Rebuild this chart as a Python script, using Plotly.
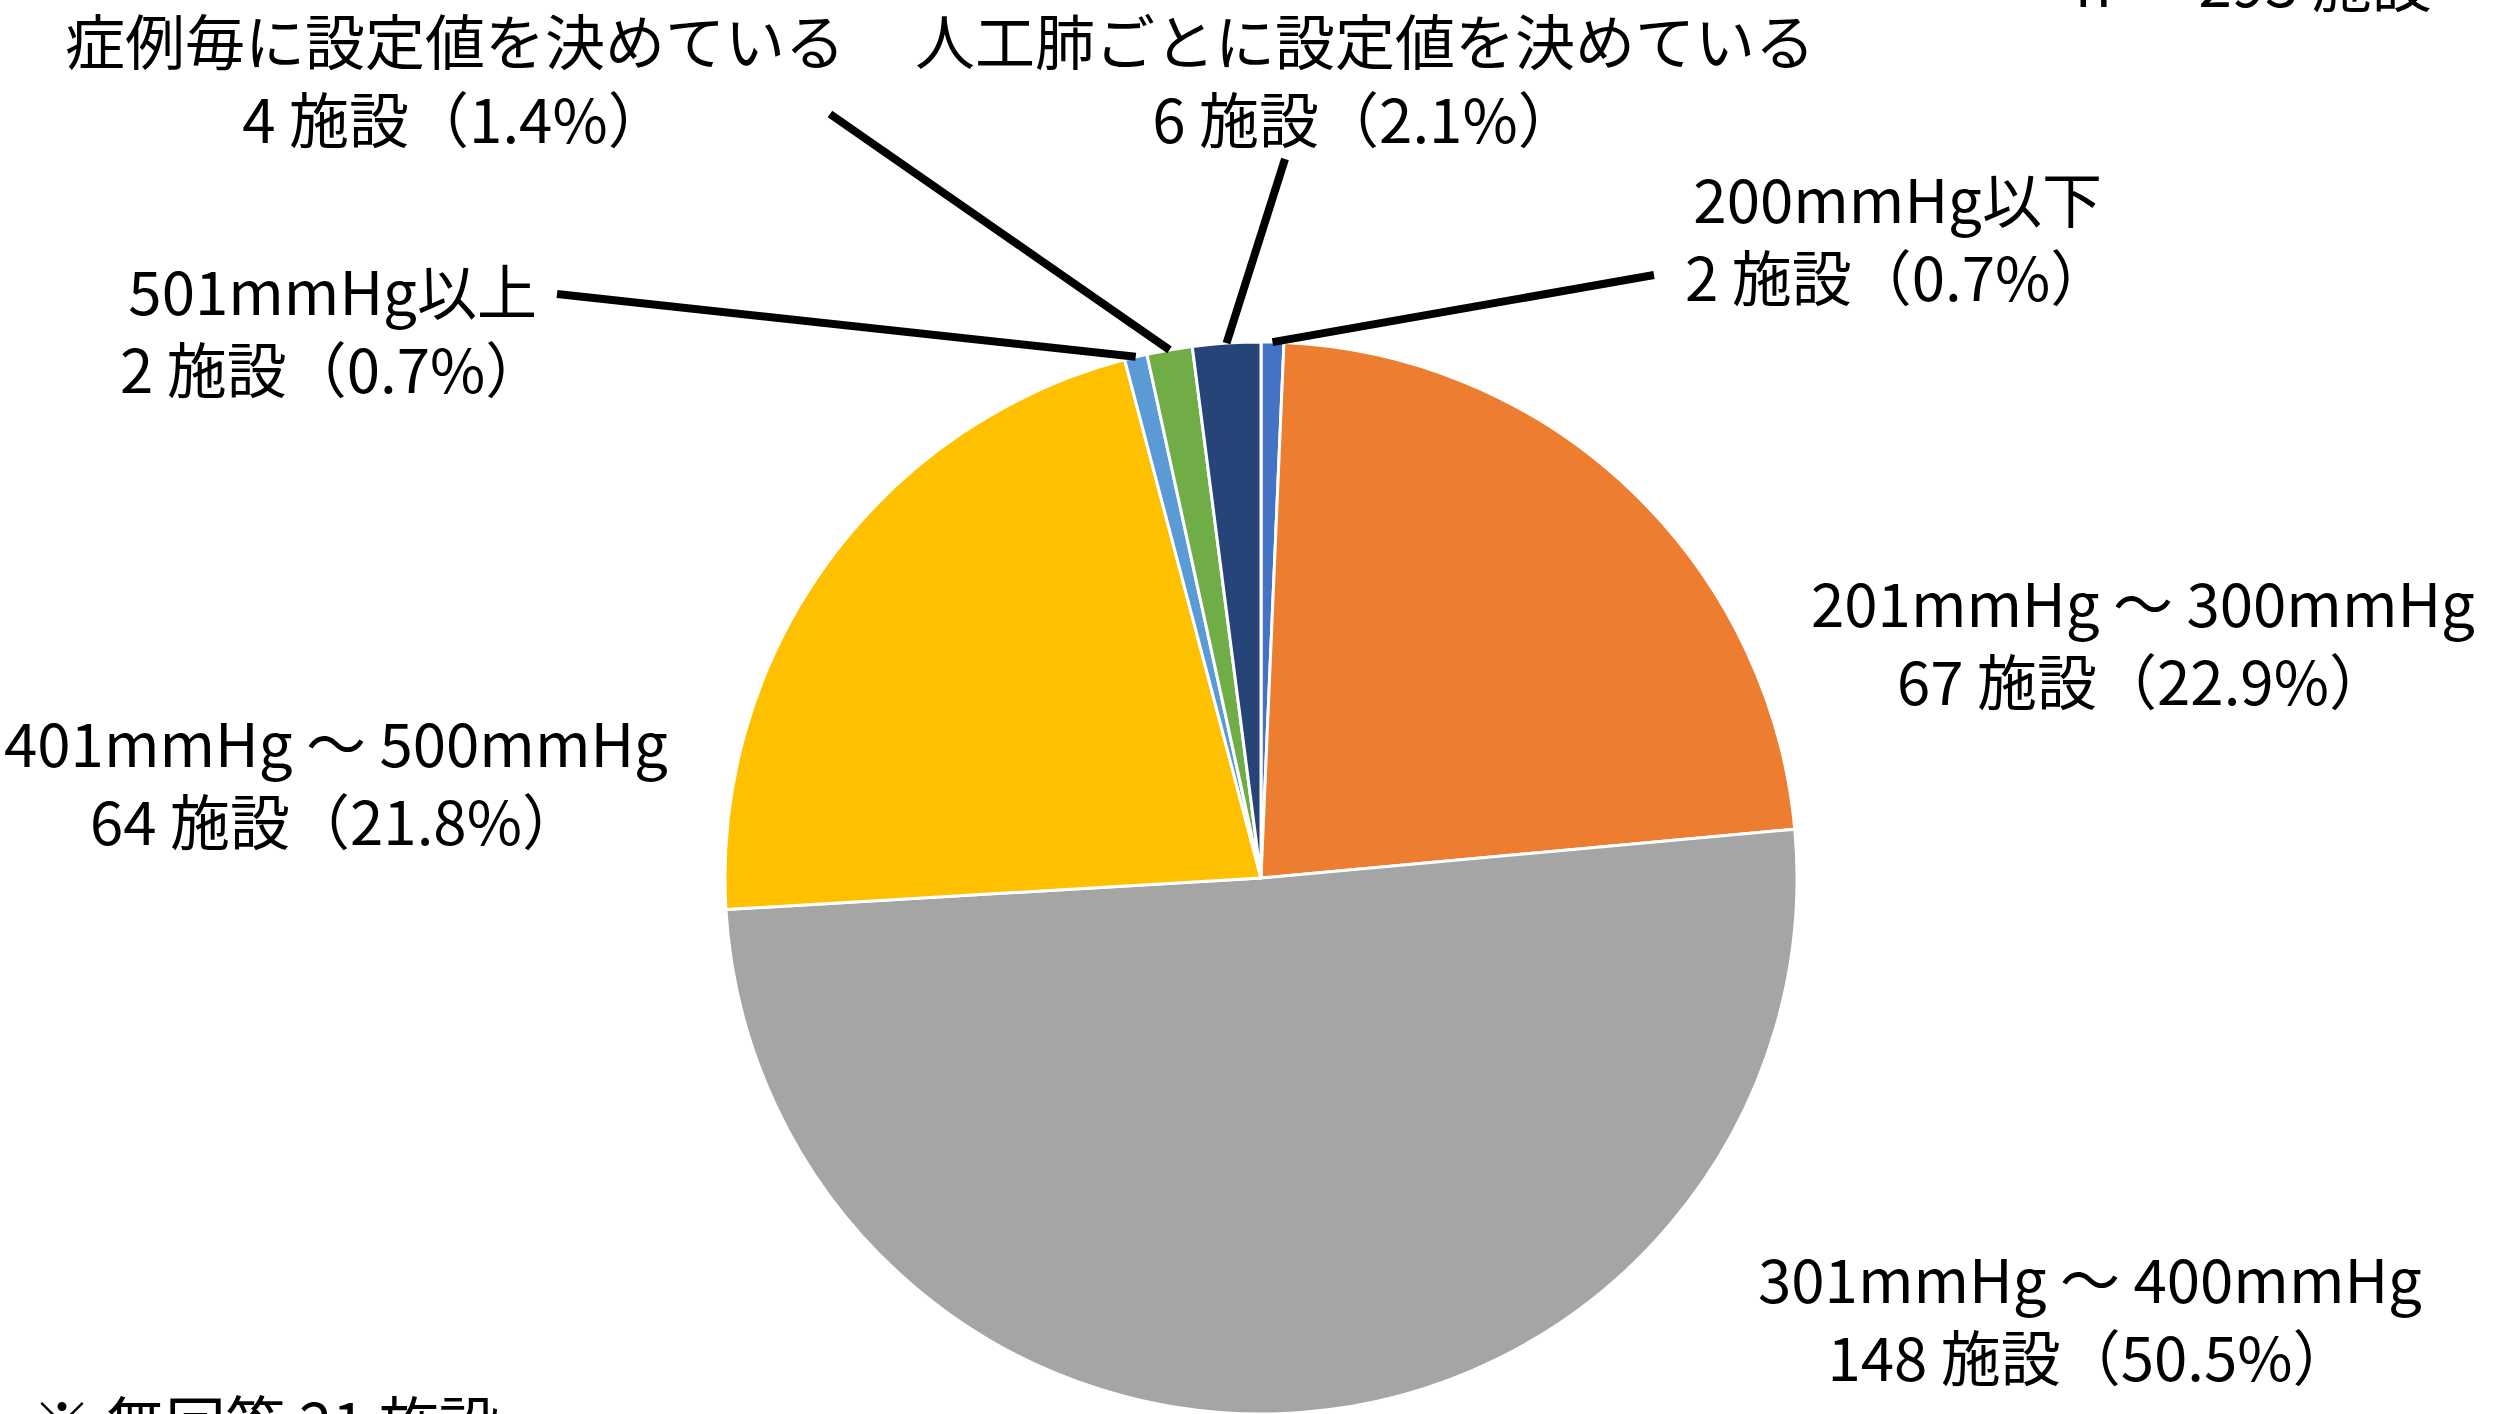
import math
import plotly.graph_objects as go

# ---- data ----
categories = [
    "200mmHg以下",
    "201mmHg ～ 300mmHg",
    "301mmHg ～ 400mmHg",
    "401mmHg ～ 500mmHg",
    "501mmHg以上",
    "症例毎に設定値を決めている",
    "人工肺ごとに設定値を決めている",
]
counts = [2, 67, 148, 64, 2, 4, 6]
percents = ["0.7", "22.9", "50.5", "21.8", "0.7", "1.4", "2.1"]
colors = ["#4472C4", "#ED7D31", "#A5A5A5", "#FFC000", "#5B9BD5", "#70AD47", "#264478"]
total_text = "n ＝ 293 施設"
no_answer_text = "※ 無回答 21 施設"

# ---- layout geometry (pixels) ----
W, H = 2493, 1414
CX, R = 1261, 536
CY = H - R  # pie sits on bottom of the domain
FONT = "Noto Sans CJK JP"
FS = 60

# label centres (px, from top-left)
label_pos = [
    (1898, 235),
    (2143, 639),
    (2090, 1315),
    (336, 780),
    (332, 327),
    (455, 77),
    (1365, 77),
]
# leader line outer ends (px) ; None = no leader line
leader_end = [
    (1654, 275),
    None,
    None,
    None,
    (557, 294),
    (830, 114),
    (1285, 159),
]

fig = go.Figure(
    go.Pie(
        labels=categories,
        values=counts,
        sort=False,
        direction="clockwise",
        rotation=0,
        marker=dict(colors=colors, line=dict(color="white", width=3)),
        textinfo="none",
        hoverinfo="skip",
        domain=dict(x=[(CX - R) / W, (CX + R) / W], y=[0, 2 * R / H]),
    )
)

def px2paper(x, y):
    return x / W, 1 - y / H

annotations = []
shapes = []
total = sum(counts)
cum = 0
for i, (cat, n, p) in enumerate(zip(categories, counts, percents)):
    mid = (cum + n / 2) / total * 2 * math.pi
    cum += n
    lx, ly = label_pos[i]
    ax, ay = px2paper(lx, ly)
    annotations.append(
        dict(
            x=ax, y=ay, xref="paper", yref="paper",
            text=f"{cat}<br>{n} 施設（{p}%）",
            showarrow=False, xanchor="center", yanchor="middle", align="center",
            font=dict(family=FONT, size=FS, color="black"),
        )
    )
    if leader_end[i] is not None:
        ex, ey = CX + R * math.sin(mid), CY - R * math.cos(mid)
        x0, y0 = px2paper(*leader_end[i])
        x1, y1 = px2paper(ex, ey)
        shapes.append(
            dict(type="line", xref="paper", yref="paper", x0=x0, y0=y0, x1=x1, y1=y1,
                 line=dict(color="black", width=8))
        )

tx, ty = px2paper(2434, -19)
annotations.append(
    dict(x=tx, y=ty, xref="paper", yref="paper", text=total_text, showarrow=False,
         xanchor="right", yanchor="middle", font=dict(family=FONT, size=FS, color="black"))
)
bx, by = px2paper(30, 1420)
annotations.append(
    dict(x=bx, y=by, xref="paper", yref="paper", text=no_answer_text, showarrow=False,
         xanchor="left", yanchor="middle", font=dict(family=FONT, size=FS, color="black"))
)

fig.update_layout(
    width=W, height=H,
    margin=dict(l=0, r=0, t=0, b=0),
    paper_bgcolor="white", plot_bgcolor="white",
    showlegend=False,
    annotations=annotations,
    shapes=shapes,
)

fig.write_html(
    "out.html",
    config={"displayModeBar": False},
    post_script="document.body.style.margin='0';document.body.style.overflow='hidden';",
)
